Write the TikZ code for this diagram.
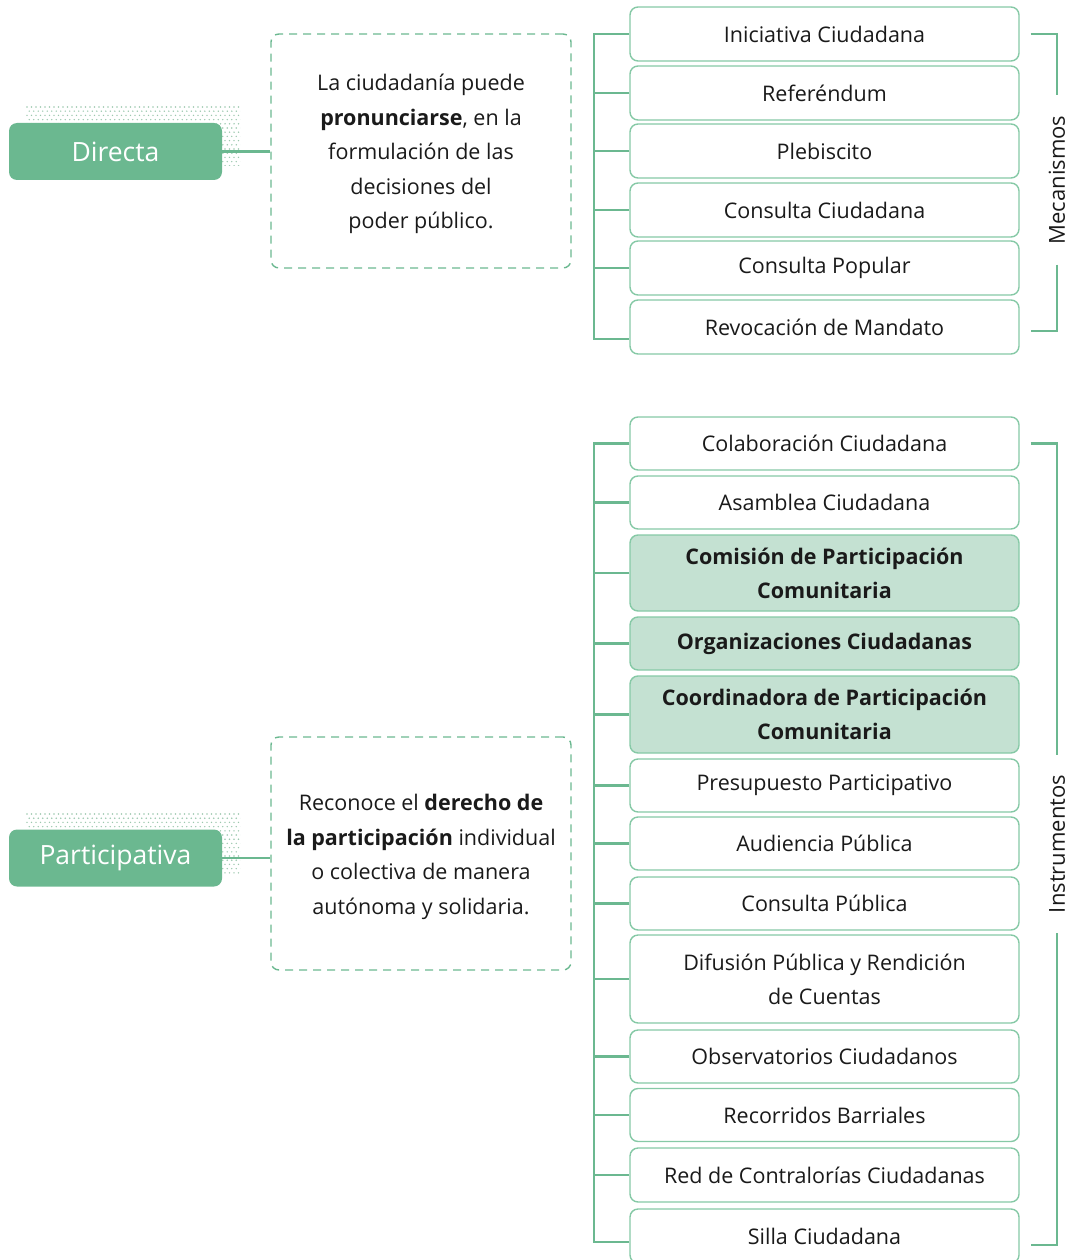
\documentclass[tikz,border=0pt]{standalone}
\usepackage{fontspec}
\setmainfont{Open Sans}
\usetikzlibrary{calc}
\definecolor{gr}{HTML}{6BB890}
\definecolor{grline}{HTML}{86C9A6}
\definecolor{grfill}{HTML}{C4E1D2}
\definecolor{dotc}{HTML}{9CC8AE}
\definecolor{txt}{HTML}{1A1A1A}
\tikzset{
  box/.style={draw=grline, line width=1.4pt, rounded corners=8pt, fill=white,
    minimum width=389pt, minimum height=54pt, align=center, inner sep=0pt,
    text=txt, font=\fontsize{21.5}{34}\selectfont},
  hbox/.style={box, fill=grfill, font=\fontsize{21.5}{34}\selectfont\bfseries},
  brk/.style={draw=gr, line width=2.9pt},
  cat/.style={fill=gr, rounded corners=8pt, minimum width=213pt, minimum height=57pt,
    text=white, inner sep=0pt, font=\fontsize{26.5}{30}\selectfont},
  dbox/.style={draw=gr, dash pattern=on 8pt off 6pt, line width=1.4pt, rounded corners=8pt,
    minimum width=300pt, inner sep=0pt},
  dtext/.style={align=center, inner sep=0pt, text=txt,
    font=\fontsize{21.5}{34.5}\selectfont},
  side/.style={rotate=90, fill=white, inner xsep=20pt, inner ysep=2pt, text=txt,
    font=\fontsize{22}{24}\selectfont},
}
\begin{document}
\begin{tikzpicture}[x=1pt,y=-1pt]
\useasboundingbox (0,0) rectangle (1071,1260);
% dotted shadows
\foreach \oy in {0,707}{
  \begin{scope}
    \clip (25,105+\oy) rectangle (240,166+\oy);
    \foreach \yy in {0,...,14}{
      \foreach \xx in {0,...,48}{
        \fill[dotc] ({27+\xx*4.5+mod(\yy,2)*2.25},{107+\oy+\yy*4.2}) circle (0.8pt);
      }
    }
  \end{scope}
}
% categories
\node[cat] (dir) at (115.5,151.5) {Directa};
\node[cat] (par) at (115.5,858) {Participativa};
% dashed description boxes
\node[dbox, minimum height=234pt] (d1) at (421,151) {};
\node[dtext] (d1t) at (421,154) {La ciudadanía puede\\\textbf{pronunciarse}, en la\\formulación de las\\decisiones del\\poder público.};
\node[dbox, minimum height=233pt] (d2) at (421,853.5) {};
\node[dtext] (d2t) at (421,857) {Reconoce el \textbf{derecho de}\\\textbf{la participación} individual\\o colectiva de manera\\autónoma y solidaria.};
% top boxes
\node[box] (r1) at (824.5,34) {Iniciativa Ciudadana};
\node[box] (r2) at (824.5,93) {Referéndum};
\node[box] (r3) at (824.5,151) {Plebiscito};
\node[box] (r4) at (824.5,210) {Consulta Ciudadana};
\node[box] (r5) at (824.5,268) {Consulta Popular};
\node[box] (r6) at (824.5,327) {Revocación de Mandato};
% bottom boxes
\node[box, minimum height=53pt] (b1) at (824.5,443.5) {Colaboración Ciudadana};
\node[box, minimum height=53pt] (b2) at (824.5,502.5) {Asamblea Ciudadana};
\node[hbox, minimum height=76pt] (b3) at (824.5,573) {Comisión de Participación\\Comunitaria};
\node[hbox, minimum height=53pt] (b4) at (824.5,643.5) {Organizaciones Ciudadanas};
\node[hbox, minimum height=77pt] (b5) at (824.5,714.5) {Coordinadora de Participación\\Comunitaria};
\node[box, minimum height=53pt] (b6) at (824.5,785.5) {Presupuesto Participativo};
\node[box, minimum height=53pt] (b7) at (824.5,843.5) {Audiencia Pública};
\node[box, minimum height=53pt] (b8) at (824.5,903.5) {Consulta Pública};
\node[box, minimum height=88pt] (b9) at (824.5,979) {Difusión Pública y Rendición\\de Cuentas};
\node[box, minimum height=53pt] (b10) at (824.5,1056.5) {Observatorios Ciudadanos};
\node[box, minimum height=53pt] (b11) at (824.5,1115) {Recorridos Barriales};
\node[box, minimum height=54pt] (b12) at (824.5,1175) {Red de Contralorías Ciudadanas};
\node[box, minimum height=54pt] (b13) at (824.5,1236) {Silla Ciudadana};
% side labels
\node[side] (mec) at (1057,180) {Mecanismos};
\node[side] (ins) at (1057,844) {Instrumentos};
% connectors category -> description
\draw[brk] (dir.east) -- (dir.east -| d1.west);
\draw[brk] (par.east) -- (par.east -| d2.west);
% top bracket
\coordinate (sp) at (594,0);
\coordinate (t6) at ($(r6.west)+(0,12)$);
\draw[brk] ($(d1.east)+(0,6)$) -- ($(d1.east)+(0,6)$ -| sp);
\draw[brk] (r1.west) -- (r1.west -| sp) -- (t6 -| sp) -- (t6);
\foreach \n in {r2,r3,r4,r5}{\draw[brk] (\n.west) -- (\n.west -| sp);}
% bottom bracket
\coordinate (t13) at ($(b13.west)+(0,6)$);
\draw[brk] ($(d2.east)+(0,3.5)$) -- ($(d2.east)+(0,3.5)$ -| sp);
\draw[brk] (b1.west) -- (b1.west -| sp) -- (t13 -| sp) -- (t13);
\foreach \n in {b2,b3,b4,b5,b6,b7,b8,b9,b10,b11,b12}{\draw[brk] (\n.west) -- (\n.west -| sp);}
% right brackets
\draw[brk] ($(r1.east)+(11,0)$) -| (mec.east);
\draw[brk] (mec.west) |- ($(r6.east)+(11,4)$);
\draw[brk] ($(b1.east)+(11,0)$) -| (ins.east);
\draw[brk] (ins.west) |- ($(b13.east)+(11,9)$);
\end{tikzpicture}
\end{document}
